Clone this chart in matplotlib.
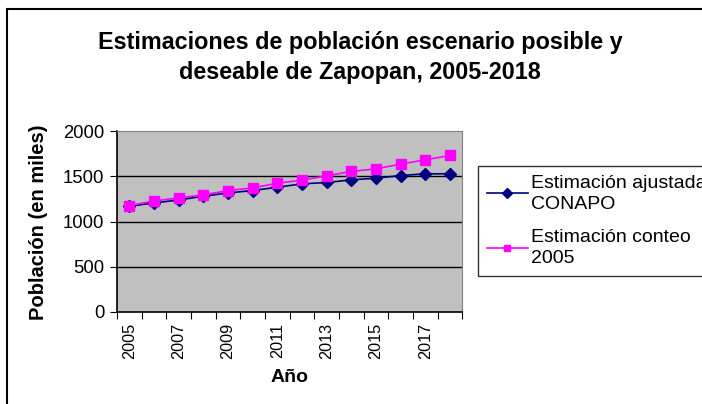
import matplotlib.pyplot as plt
from matplotlib.patches import Rectangle

plt.rcParams['font.family'] = ['Liberation Sans', 'DejaVu Sans']

# === Datos ===
anios = [2005, 2006, 2007, 2008, 2009, 2010, 2011, 2012, 2013, 2014, 2015, 2016, 2017, 2018]
conapo = [1168, 1205, 1238, 1279, 1316, 1342, 1379, 1416, 1431, 1460, 1479, 1508, 1527, 1527]
conteo = [1176, 1227, 1261, 1294, 1342, 1371, 1423, 1457, 1505, 1553, 1582, 1634, 1682, 1730]
yticks = [0, 500, 1000, 1500, 2000]

W, H = 702, 404
fig = plt.figure(figsize=(W / 100, H / 100), dpi=100)

# marco exterior del grafico
fig.patches.append(Rectangle((7 / W, -0.1), 1.2, 1 - 9 / H + 0.1, transform=fig.transFigure,
                             fill=False, edgecolor='black', lw=1.5))

ax = fig.add_axes([117 / W, (H - 312) / H, (462.5 - 117) / W, (312 - 131) / H])
ax.set_facecolor('#C0C0C0')

x = list(range(len(anios)))
ax.plot(x, conapo, color='#000080', marker='D', markersize=6, lw=1.2,
        label='Estimación ajustada\nCONAPO')
ax.plot(x, conteo, color='#FF00FF', marker='s', markersize=7, lw=1.2,
        label='Estimación conteo\n2005')

ax.set_xlim(-0.5, len(anios) - 0.5)
ax.set_ylim(0, 2000)
ax.set_yticks(yticks)
ax.tick_params(axis='y', labelsize=13.3, length=5, direction='out', color='black', pad=4)
for v in yticks[1:-1]:
    ax.axhline(v, color='black', lw=1, zorder=1)

# ticks en los limites de categoria, etiquetas en el centro
ax.set_xticks([i - 0.5 for i in range(len(anios) + 1)])
ax.set_xticklabels([])
ax.set_xticks(x[::2], minor=True)
ax.set_xticklabels([str(a) for a in anios[::2]], minor=True, rotation=90, fontsize=11.7)
ax.tick_params(axis='x', which='major', length=5, direction='out')
ax.tick_params(axis='x', which='minor', length=0, pad=8)

for s in ['top', 'right']:
    ax.spines[s].set_color('#808080')
for s in ['left', 'bottom']:
    ax.spines[s].set_color('black')
    ax.spines[s].set_linewidth(1.2)

fig.text(39 / W, 1 - 222 / H, 'Población (en miles)', rotation=90, ha='center', va='center',
         fontsize=14.5, fontweight='bold')
fig.text(290 / W, 1 - 378 / H, 'Año', ha='center', va='center', fontsize=14, fontweight='bold')

fig.text(360 / W, 1 - 42 / H, 'Estimaciones de población escenario posible y',
         ha='center', va='center', fontsize=16.8, fontweight='bold')
fig.text(360 / W, 1 - 72 / H, 'deseable de Zapopan, 2005-2018',
         ha='center', va='center', fontsize=16.8, fontweight='bold')

leg = ax.legend(loc='upper left', bbox_to_anchor=(478 / W, 1 - 166 / H),
                bbox_transform=fig.transFigure, fontsize=14, frameon=True, fancybox=False,
                handlelength=2.1, borderaxespad=0, borderpad=0.45, labelspacing=0.85,
                handletextpad=0.2)
leg.get_frame().set_edgecolor('black')
leg.get_frame().set_linewidth(1)
for t in leg.get_texts():
    t.set_linespacing(1.3)
for h in leg.legend_handles:
    h.set_markersize(5)

fig.savefig('out.png', dpi=100)
